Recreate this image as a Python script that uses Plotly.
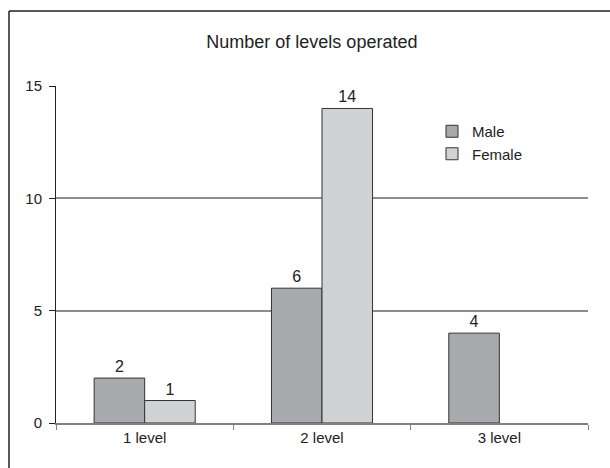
import plotly.graph_objects as go

categories = ["1 level", "2 level", "3 level"]
male = [2, 6, 4]
female = [1, 14, None]
male_labels = ["2", "6", "4"]
female_labels = ["1", "14", ""]
title = "Number of levels operated"
y_ticks = [0, 5, 10, 15]

W, H = 610, 468
L, R, T, B = 56, 22, 86, 45
FONT = "Liberation Sans"

fig = go.Figure()
fig.add_trace(go.Bar(
    x=categories, y=male, name="Male",
    marker=dict(color="#a8a9ac", line=dict(color="#333333", width=1)),
    text=male_labels, textposition="outside", cliponaxis=False,
    textfont=dict(size=16, color="#222222"),
))
fig.add_trace(go.Bar(
    x=categories, y=female, name="Female",
    marker=dict(color="#d1d2d4", line=dict(color="#333333", width=1)),
    text=female_labels, textposition="outside", cliponaxis=False,
    textfont=dict(size=16, color="#222222"),
))

pw = W - L - R
ph = H - T - B
fx = lambda px: (px - L) / pw
fy = lambda py: (H - B - py) / ph

fig.update_layout(
    width=W, height=H,
    margin=dict(l=L, r=R, t=T, b=B, pad=0),
    paper_bgcolor="white", plot_bgcolor="white",
    barmode="group", bargap=0.43, bargroupgap=0,
    font=dict(family=FONT, size=14, color="#222222"),
    title=dict(text=title, x=fx(328), xanchor="center", y=1 - 42 / H, yanchor="middle",
               font=dict(family=FONT, size=18, color="#222222")),
    legend=dict(x=fx(432), y=fy(115), xanchor="left", yanchor="top",
                font=dict(size=15), bgcolor="rgba(0,0,0,0)", tracegroupgap=0,
                itemwidth=30),
    showlegend=True,
    xaxis=dict(showline=True, linecolor="#808080", linewidth=1.5,
               ticks="outside", tickson="boundaries", ticklen=5, tickcolor="#808080",
               tickfont=dict(size=15), showgrid=False),
    yaxis=dict(range=[0, 15], tickvals=y_ticks, showline=True, linecolor="#222222",
               linewidth=1, ticks="outside", ticklen=6, tickcolor="#222222",
               ticklabelstandoff=4,
               showgrid=True, gridcolor="#8c8c8c", gridwidth=1.5, zeroline=False,
               tickfont=dict(size=15)),
    shapes=[
        dict(type="line", xref="paper", yref="paper", x0=fx(9), x1=fx(615), y0=fy(11), y1=fy(11),
             line=dict(color="#222222", width=1.5)),
        dict(type="line", xref="paper", yref="paper", x0=fx(9), x1=fx(9), y0=fy(11), y1=fy(475),
             line=dict(color="#222222", width=1.5)),
    ],
)

fig.write_html("out.html")
